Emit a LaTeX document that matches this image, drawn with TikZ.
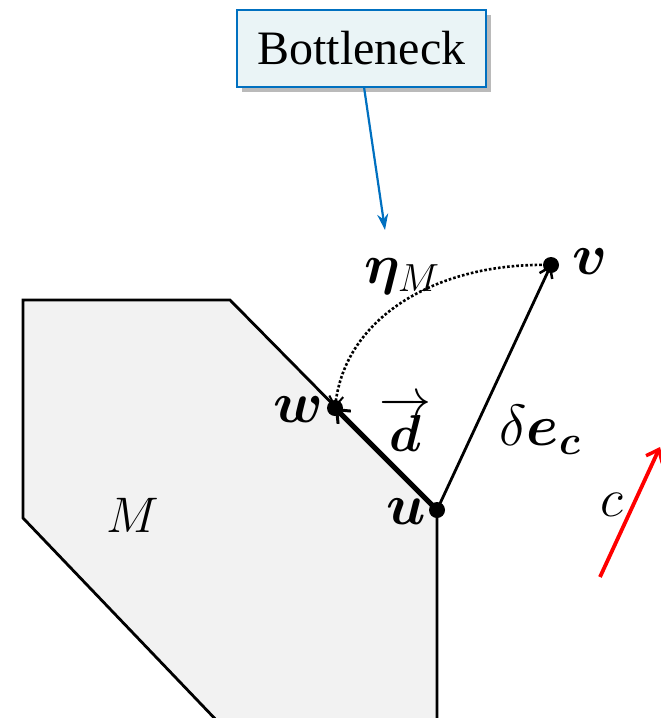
\RequirePackage{fix-cm}
\documentclass[tikz,border=0pt]{standalone}
\usepackage{amsmath}
\usepackage{bm}
\usepackage{fontspec}
\newfontfamily\bnfont{Liberation Serif}
\usetikzlibrary{arrows.meta,shadows}
\definecolor{boxfill}{RGB}{234,244,246}
\definecolor{boxline}{RGB}{0,112,192}
\definecolor{polyfill}{RGB}{242,242,242}
\tikzset{
  lbl/.style={font=\fontsize{58}{66}\selectfont, inner sep=0pt},
  dotpt/.style={circle, fill=black, inner sep=0pt, minimum size=16pt},
  barb/.style={-{Straight Barb[length=10pt,width=14pt,line width=2.5pt]}},
}
\begin{document}
\begin{tikzpicture}[x=1pt,y=-1pt]
\useasboundingbox (0,0) rectangle (661,718);
\clip (0,0) rectangle (661,718);
% polygon M
\draw[line width=2.8pt, fill=polyfill, line join=miter]
  (23,300) -- (230,300) -- (437,510) -- (437,725) -- (221,725) -- (23,518) -- cycle;
% points
\node[dotpt] (u) at (437,510) {};
\node[dotpt] (w) at (335,408) {};
\node[dotpt] (v) at (551,265) {};
% labels
\node[lbl, font=\fontsize{50}{60}\selectfont] (Mlab) at (133,515) {$M$};
\node[lbl] (ulab) at (406,512) {$\bm{u}$};
\node[lbl] (wlab) at (298,410) {$\bm{w}$};
\node[lbl] (vlab) at (590,262) {$\bm{v}$};
\node[lbl, font=\fontsize{56}{66}\selectfont] (etalab) at (402,276) {$\bm{\eta}_{M}$};
\node[lbl, font=\fontsize{52}{60}\selectfont] (dlab) at (405,424) {$\overrightarrow{\bm{d}}$};
\node[lbl] (elab) at (540,430) {$\delta\bm{e}_{\bm{c}}$};
\node[lbl, font=\fontsize{54}{60}\selectfont] (clab) at (612,505) {$c$};
% arrows
\draw[line width=2.8pt, barb] (u.center) -- (v.center);
\draw[line width=5pt, -{Straight Barb[length=11pt,width=18pt,line width=3pt]}] (u.center) -- (w.center);
\draw[line width=2.6pt, dotted, -{Straight Barb[length=10pt,width=14pt,line width=2pt]}]
  (v.center) .. controls (440,262) and (345,315) .. (w.center);
% red c arrow
\coordinate (cs) at (600,577);
\coordinate (ce) at (660,447);
\draw[red, line width=3.8pt, -{Straight Barb[length=11pt,width=18pt,line width=3.5pt]}] (cs) -- (ce);
% Bottleneck box
\node[draw=boxline, line width=2.2pt, fill=boxfill, minimum width=249pt, minimum height=77pt,
      inner sep=0pt, drop shadow={shadow xshift=5pt, shadow yshift=-5pt, fill=black!45, opacity=0.6},
      font=\bnfont\fontsize{48}{56}\selectfont] (bn) at (361.5,48.5) {Bottleneck};
\coordinate (btip) at (385,230);
\draw[boxline, line width=2.2pt, -{Stealth[length=16pt,width=11pt]}] (364,87) -- (btip);
\end{tikzpicture}
\end{document}
